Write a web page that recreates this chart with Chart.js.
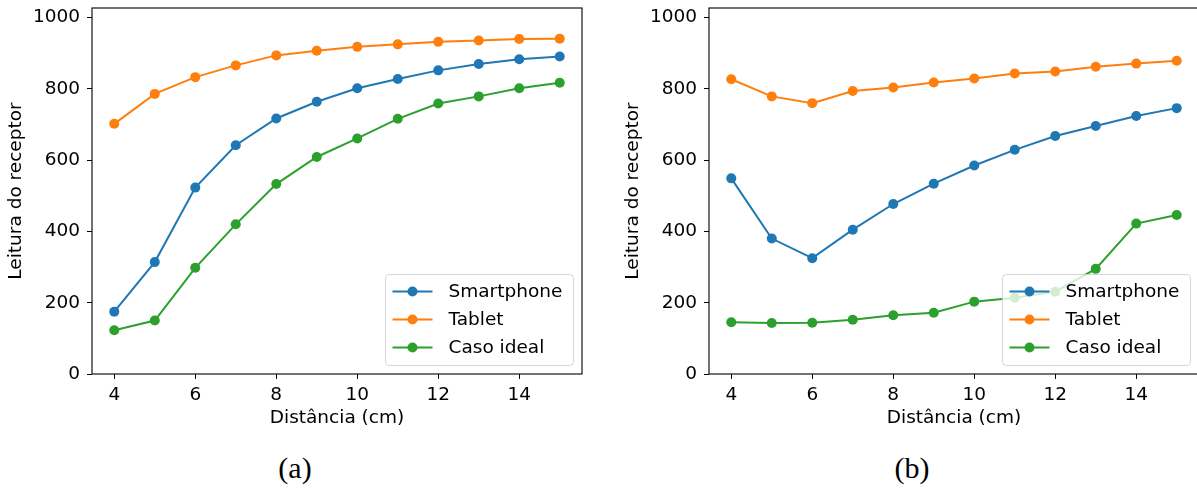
<!DOCTYPE html>
<html>
<head>
<meta charset="utf-8">
<script src="https://cdn.jsdelivr.net/npm/chart.js@4.4.0/dist/chart.umd.min.js"></script>
<style>
    html, body { margin: 0; padding: 0; background: #fff; width: 1197px; height: 489px; overflow: hidden; }
    .panel { position: absolute; top: 0; width: 600px; height: 440px; }
    .caption { position: absolute; top: 450px; width: 80px; text-align: center;
               font-family: "Liberation Serif", serif; font-size: 30px; line-height: 36px; color: #000; }
</style>
</head>
<body>
<div class="panel" style="left:0"><canvas id="chartA" width="600" height="440"></canvas></div>
<div class="panel" style="left:617px"><canvas id="chartB" width="600" height="440"></canvas></div>
<div class="caption" style="left:255px">(a)</div>
<div class="caption" style="left:872px">(b)</div>

<script>
// Distance (cm) for every reading
const distancia = [4, 5, 6, 7, 8, 9, 10, 11, 12, 13, 14, 15];

// Panel (a)
const smartphoneA = [175, 314, 523, 642, 717, 764, 802, 828, 852, 870, 883, 891];
const tabletA     = [702, 786, 833, 866, 894, 907, 918, 925, 932, 936, 940, 941];
const idealA      = [123, 150, 298, 420, 533, 609, 661, 716, 759, 779, 802, 817];

// Panel (b)
const smartphoneB = [549, 380, 325, 405, 477, 534, 585, 629, 668, 696, 724, 746];
const tabletB     = [827, 779, 760, 794, 804, 818, 829, 843, 849, 862, 871, 879];
const idealB      = [145, 143, 144, 152, 165, 172, 203, 214, 231, 295, 422, 446];

const seriesNames = ["Smartphone", "Tablet", "Caso ideal"];
const seriesColors = ["#1f77b4", "#ff7f0e", "#2ca02c"];
const xTicks = [4, 6, 8, 10, 12, 14];
const yTicks = [0, 200, 400, 600, 800, 1000];
const xLabel = "Distância (cm)";
const yLabel = "Leitura do receptor";

const FONT = { family: "DejaVu Sans", size: 18.5 };

// frame on all four sides + legend box in the lower right corner
const frameAndLegend = {
    id: "frameAndLegend",
    afterDatasetsDraw(chart) {
        const { ctx, chartArea: a } = chart;
        ctx.save();
        ctx.strokeStyle = "#000";
        ctx.lineWidth = 1.1;
        ctx.strokeRect(a.left, a.top, a.right - a.left, a.bottom - a.top);

        const w = 188, h = 91;
        const bx = Math.round(a.right - 9 - w) + 0.5;
        const by = Math.round(a.bottom - 9 - h) + 0.5;
        ctx.beginPath();
        ctx.roundRect(bx, by, w, h, 4);
        ctx.fillStyle = "rgba(255,255,255,0.8)";
        ctx.fill();
        ctx.strokeStyle = "rgba(204,204,204,0.8)";
        ctx.lineWidth = 1;
        ctx.stroke();

        ctx.font = `${FONT.size}px "${FONT.family}"`;
        ctx.textBaseline = "middle";
        ctx.textAlign = "left";
        chart.data.datasets.forEach((ds, i) => {
            const y = by + 17 + 28 * i;
            ctx.strokeStyle = ds.borderColor;
            ctx.lineWidth = 2;
            ctx.beginPath();
            ctx.moveTo(bx + 7, y);
            ctx.lineTo(bx + 47, y);
            ctx.stroke();
            ctx.fillStyle = ds.borderColor;
            ctx.beginPath();
            ctx.arc(bx + 27, y, 5, 0, Math.PI * 2);
            ctx.fill();
            ctx.fillStyle = "#000";
            ctx.fillText(ds.label, bx + 63, y + 1);
        });
        ctx.restore();
    }
};

const makeChart = (id, series) => {
    const datasets = series.map((vals, i) => ({
        label: seriesNames[i],
        data: distancia.map((d, k) => ({ x: d, y: vals[k] })),
        borderColor: seriesColors[i],
        backgroundColor: seriesColors[i],
        pointBackgroundColor: seriesColors[i],
        borderWidth: 2,
        pointRadius: 5,
        pointBorderWidth: 0,
        tension: 0,
        order: 3 - i
    }));

    return new Chart(document.getElementById(id).getContext("2d"), {
        type: "line",
        data: { datasets },
        options: {
            responsive: false,
            animation: false,
            events: [],
            layout: { padding: { left: 0, right: 18, top: 8, bottom: 0 } },
            plugins: { legend: { display: false }, tooltip: { enabled: false } },
            scales: {
                x: {
                    type: "linear",
                    min: 3.45,
                    max: 15.55,
                    afterBuildTicks: s => { s.ticks = xTicks.map(v => ({ value: v })); },
                    afterFit: s => { s.height = 66; s.paddingLeft = 0; s.paddingRight = 0; },
                    ticks: { font: FONT, color: "#000", padding: 5, maxRotation: 0, autoSkip: false,
                             callback: v => String(v) },
                    grid: { display: true, drawOnChartArea: false, drawTicks: true, tickLength: 5,
                            tickColor: "#000", tickWidth: 1 },
                    border: { display: false },
                    title: { display: true, text: xLabel, font: FONT, color: "#000",
                             padding: { top: 4, bottom: 10.5 } }
                },
                y: {
                    type: "linear",
                    min: 0,
                    max: 1027,
                    afterBuildTicks: s => { s.ticks = yTicks.map(v => ({ value: v })); },
                    afterFit: s => { s.width = 92; s.paddingTop = 0; s.paddingBottom = 0; },
                    ticks: { font: FONT, color: "#000", padding: 7, autoSkip: false,
                             callback: v => String(v) },
                    grid: { display: true, drawOnChartArea: false, drawTicks: true, tickLength: 5,
                            tickColor: "#000", tickWidth: 1 },
                    border: { display: false },
                    title: { display: true, text: yLabel, font: FONT, color: "#000",
                             padding: { top: 5, bottom: 4 } }
                }
            }
        },
        plugins: [frameAndLegend]
    });
};

makeChart("chartA", [smartphoneA, tabletA, idealA]);
makeChart("chartB", [smartphoneB, tabletB, idealB]);
</script>
</body>
</html>
